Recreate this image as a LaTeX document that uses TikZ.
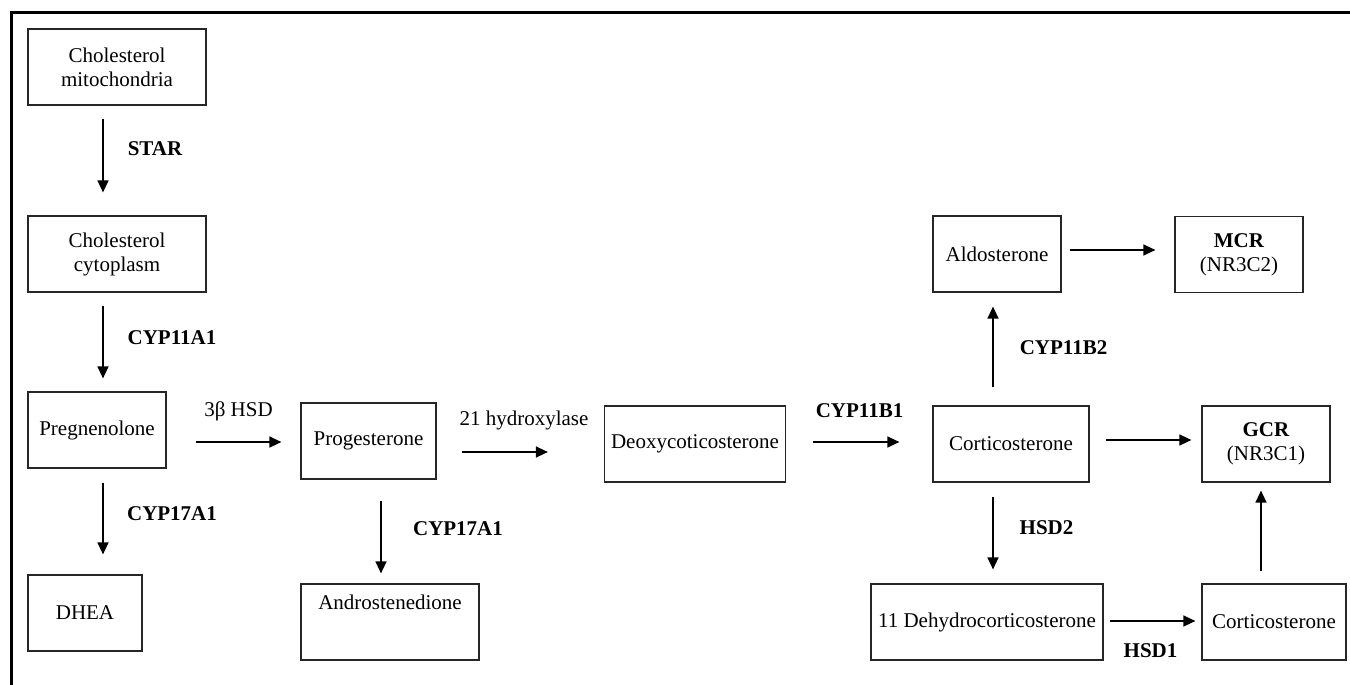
\documentclass[tikz,border=0pt]{standalone}
\usepackage{fontspec}
\setmainfont{Liberation Serif}
\usetikzlibrary{arrows.meta}

\begin{document}
\begin{tikzpicture}[x=0.5pt,y=-0.5pt,
  box/.style={draw=black!85,line width=0.6pt,inner sep=0pt,minimum height=38pt,
    align=center,font=\fontsize{10.5}{12}\selectfont},
  enz/.style={anchor=base,inner sep=0pt,font=\fontsize{10.5}{12}\selectfont\bfseries},
  lab/.style={anchor=base,inner sep=0pt,font=\fontsize{10.5}{12}\selectfont},
  arr/.style={line width=0.7pt,-{Triangle[length=6pt,width=5.5pt]}}]
  \useasboundingbox (0,0) rectangle (1350,685);
  \draw[line width=1.5pt] (11,685) -- (11,12) -- (1350,12);

  % cholesterol to pregnenolone
  \node[box,minimum width=89pt] (mito) at (117,67) {Cholesterol\\mitochondria};
  \node[box,minimum width=89pt] (cyto) at (117,254) {Cholesterol\\cytoplasm};
  \node[box,minimum width=69pt] (preg) at (97,430) {Pregnenolone};
  \node[box,minimum width=57pt] (dhea) at (85,613) {DHEA};
  \node[box,minimum width=67.5pt] (prog) at (368.5,441) {Progesterone};
  \node[box,minimum width=89pt,minimum height=0pt,text height=12.5pt,text depth=25.5pt]
    (andro) at (390,622) {Androstenedione};
  \node[box,minimum width=90.5pt] (deoxy) at (695,444) {Deoxycoticosterone};

  % corticosterone and receptors
  \node[box,minimum width=64pt] (aldo) at (997,254) {Aldosterone};
  \node[box,minimum width=64pt] (mcr) at (1239,254.5) {\textbf{MCR}\\(NR3C2)};
  \node[box,minimum width=78pt] (cort) at (1011,444) {Corticosterone};
  \node[box,minimum width=64pt] (gcr) at (1266,444) {\textbf{GCR}\\(NR3C1)};
  \node[box,minimum width=116pt] (dehydro) at (987,622) {11 Dehydrocorticosterone};
  \node[box,minimum width=72pt] (cort2) at (1274,622) {Corticosterone};

  % enzymes
  \node[enz] (star) at (155,155) {STAR};
  \node[enz] (cypA) at (172,344) {CYP11A1};
  \node[enz] (cypP) at (172,520) {CYP17A1};
  \node[lab] (hsdB) at (238.5,416) {3β HSD};
  \node[enz] (cypQ) at (458,535) {CYP17A1};
  \node[lab] (hydr) at (524,425) {21 hydroxylase};
  \node[enz] (cypB) at (859.5,417) {CYP11B1};
  \node[enz] (cypC) at (1063.5,354) {CYP11B2};
  \node[enz] (hsdT) at (1046.5,534) {HSD2};
  \node[enz] (hsdO) at (1150.5,657) {HSD1};

  \draw[arr] ([xshift=-7pt,yshift=-6.5pt]mito.south) -- ([xshift=-7pt,yshift=11.5pt]cyto.north);
  \draw[arr] ([xshift=-7pt,yshift=-6.5pt]cyto.south) -- ([xshift=3pt,yshift=6.5pt]preg.north);
  \draw[arr] ([xshift=3pt,yshift=-7pt]preg.south) -- ([xshift=9pt,yshift=10pt]dhea.north);
  \draw[arr] ([xshift=14.5pt,yshift=-6pt]preg.east) -- ([xshift=-9.5pt,yshift=-0.5pt]prog.west);
  \draw[arr] ([xshift=6.25pt,yshift=-10.5pt]prog.south) -- ([xshift=-4.5pt,yshift=5pt]andro.north);
  \draw[arr] ([xshift=12.5pt,yshift=-5.5pt]prog.east) -- ([xshift=-28pt,yshift=-4pt]deoxy.west);
  \draw[arr] ([xshift=13.5pt,yshift=1pt]deoxy.east) -- ([xshift=-16.5pt,yshift=1pt]cort.west);
  \draw[arr] ([xshift=-9pt,yshift=9pt]cort.north) -- ([xshift=-2pt,yshift=-7pt]aldo.south);
  \draw[arr] ([xshift=4pt,yshift=2pt]aldo.east) -- ([xshift=-9.5pt,yshift=2.25pt]mcr.west);
  \draw[arr] ([xshift=8pt,yshift=2pt]cort.east) -- ([xshift=-5pt,yshift=2pt]gcr.west);
  \draw[arr] ([xshift=-9pt,yshift=-7pt]cort.south) -- ([xshift=3pt,yshift=7pt]dehydro.north);
  \draw[arr] ([xshift=3pt,yshift=0.5pt]dehydro.east) -- ([xshift=-3pt,yshift=0.5pt]cort2.west);
  \draw[arr] ([xshift=-6.5pt,yshift=6pt]cort2.north) -- ([xshift=-2.5pt,yshift=-4pt]gcr.south);
\end{tikzpicture}
\end{document}
